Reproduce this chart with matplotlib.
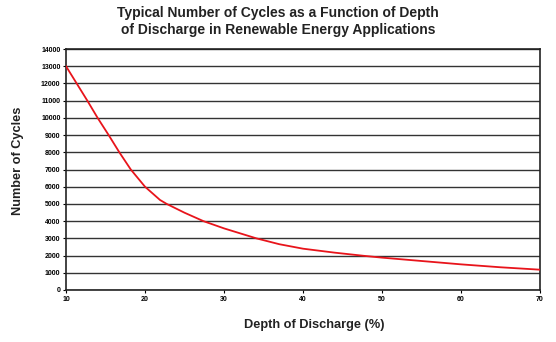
import numpy as np
import matplotlib.pyplot as plt
from matplotlib.ticker import MultipleLocator

# depth of discharge (%) vs typical number of cycles
dod = [10, 11.35, 12.7, 14.0, 15.4, 16.75, 18.2, 20.0, 21.9, 22.75, 25, 27.4, 30, 34.1, 37, 40, 44, 47.6, 50, 55, 60, 65, 70]
cycles = [13000, 12000, 11000, 10000, 9000, 8000, 7000, 6000, 5230, 5000, 4490, 4000, 3580, 3000, 2660, 2400, 2170, 1990, 1880, 1685, 1490, 1320, 1180]

plt.rcParams['font.family'] = ['Liberation Sans', 'DejaVu Sans']

fig = plt.figure(figsize=(5.56, 3.42), dpi=100)
ax = fig.add_axes([66/556, 1-290/342, (540-66)/556, (290-49)/342])

ax.plot(dod, cycles, color='#e8141b', linewidth=1.3, zorder=3,
        solid_joinstyle='round')

ax.set_xlim(10, 70)
ax.set_ylim(0, 14000)
ax.xaxis.set_major_locator(MultipleLocator(10))
ax.yaxis.set_major_locator(MultipleLocator(1000))
ax.grid(axis='y', color='#333333', linewidth=1.0)
for s in ax.spines.values():
    s.set_color('#222222')
    s.set_linewidth(1.2)
ax.tick_params(labelsize=5, length=2, width=0.8, pad=2)
for lab in ax.get_xticklabels() + ax.get_yticklabels():
    lab.set_fontweight('bold')

fig.text(314/556, 1-325/342, 'Depth of Discharge (%)', ha='center', va='center',
         fontsize=9.2, fontweight='bold', color='#222222')
fig.text(18/556, 1-161/342, 'Number of Cycles', ha='center', va='center', rotation=90,
         fontsize=9.2, fontweight='bold', color='#222222')
fig.text(0.5, 1-6/342, 'Typical Number of Cycles as a Function of Depth\nof Discharge in Renewable Energy Applications',
         ha='center', va='top', fontsize=10, fontweight='bold', color='#222222', linespacing=1.3)

fig.savefig('out.png', dpi=100)
